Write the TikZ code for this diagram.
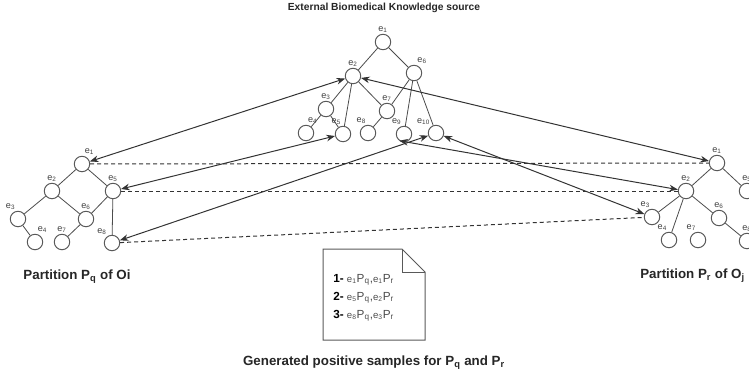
\documentclass[tikz,border=0pt]{standalone}
\usepackage{fontspec}
\setmainfont{Liberation Sans}
\usepackage{tikz}
\usetikzlibrary{arrows.meta}

\newcommand{\eP}[2]{{\fontsize{7.2}{8}\selectfont e\textsubscript{#1}}P\textsubscript{#2}}

\tikzset{
    ent/.style={circle, draw=black!65, fill=white, line width=0.75pt, minimum size=11.6pt, inner sep=0pt},
    elbl/.style={font=\fontsize{6.8}{8}\selectfont, text=black!75, inner sep=0.8pt},
    tree/.style={line width=0.6pt, draw=black!70},
    link/.style={<->, line width=0.75pt, draw=black!80},
    samedash/.style={line width=0.75pt, draw=black!80, dash pattern=on 3pt off 2.25pt},
    doc/.style={line width=0.75pt, draw=black!65},
    srctitle/.style={font=\bfseries\fontsize{7.7}{9}\selectfont, text=black!85, inner sep=0pt},
    parttitle/.style={font=\bfseries\fontsize{10}{12}\selectfont, text=black!85, inner sep=0pt},
    smp/.style={font=\fontsize{8.8}{10}\selectfont, text=black!70, inner sep=0pt}
}

\begin{document}
\begin{tikzpicture}[x=0.75pt, y=-0.75pt, >={Stealth[length=6.5pt,width=5pt]}]
    \useasboundingbox (0,0) rectangle (749,376);
    \clip (0,0) rectangle (749,376);

    % Knowledge source tree
    \node[srctitle, anchor=base] (srctitle) at (384,10) {External Biomedical Knowledge source};
    \foreach \n/\x/\y/\a in {1/383/42/90, 2/353/76/90, 3/326/109/90, 4/306/133/85, 5/343/134/95,
                             6/414/73/75, 7/387/111/90, 8/368/133/95, 9/404/134/100, 10/436/133/125}
        \node[ent, label={[elbl]\a:e\textsubscript{\n}}] (t\n) at (\x,\y) {};
    \foreach \u/\v in {t1/t2, t1/t6, t2/t3, t2/t5, t2/t7, t3/t4, t3/t5, t6/t7, t6/t9, t6/t10, t7/t8}
        \draw[tree] (\u) -- (\v);

    % Partition Pq
    \foreach \n/\x/\y/\a in {1/82/164/80, 2/52/191/90, 3/18/219/100, 4/35/242/80,
                             5/113/191/90, 6/86/219/90, 7/62/242/90, 8/112/243/120}
        \node[ent, label={[elbl]\a:e\textsubscript{\n}}] (q\n) at (\x,\y) {};
    \foreach \u/\v in {q1/q2, q1/q5, q2/q3, q2/q6, q5/q6, q5/q8, q3/q4, q6/q7}
        \draw[tree] (\u) -- (\v);
    \node[parttitle, anchor=base] (partq) at (77,279) {Partition P\textsubscript{q} of Oi};

    % Partition Pr
    \foreach \n/\x/\y/\a in {1/717/163/90, 2/686/191/90, 3/652/217/95, 4/669/240/95,
                             5/747/191/90, 6/719/218/90, 7/698/240/95, 8/747/241/90}
        \node[ent, label={[elbl]\a:e\textsubscript{\n}}] (r\n) at (\x,\y) {};
    \foreach \u/\v in {r1/r2, r1/r5, r2/r3, r2/r4, r2/r6, r6/r8}
        \draw[tree] (\u) -- (\v);
    \node[parttitle, anchor=base west] (partr) at (640,278) {Partition P\textsubscript{r} of O\textsubscript{j}};

    % Links to the knowledge source
    \draw[link] (q1) -- (t2);
    \draw[link] (t2) -- (r1);
    \draw[link] (q5) -- (t5);
    \draw[link] (q8) -- (t10);
    \draw[link] (t9.235) -- (r2);
    \draw[link] (t10) -- (r3);

    % Matched pairs
    \draw[samedash] (q1) -- (r1);
    \draw[samedash] (q5) -- (r2);
    \draw[samedash] (q8) -- (r3);

    % Generated samples
    \draw[doc] (323,249) -- (402,249) -- (425,272) -- (425,340) -- (323,340) -- cycle;
    \draw[doc] (402,249) -- (402,272) -- (425,272);
    \foreach \i/\p/\r/\y in {1/1/1/282, 2/5/2/300, 3/8/3/318}
        \node[smp, anchor=base west] (sample\i) at (333,\y) {\textcolor{black}{\textbf{\i-}} \eP{\p}{q},\eP{\r}{r}};
    \node[parttitle, anchor=base] (caption) at (374,365) {Generated positive samples for P\textsubscript{q} and P\textsubscript{r}};
\end{tikzpicture}
\end{document}
